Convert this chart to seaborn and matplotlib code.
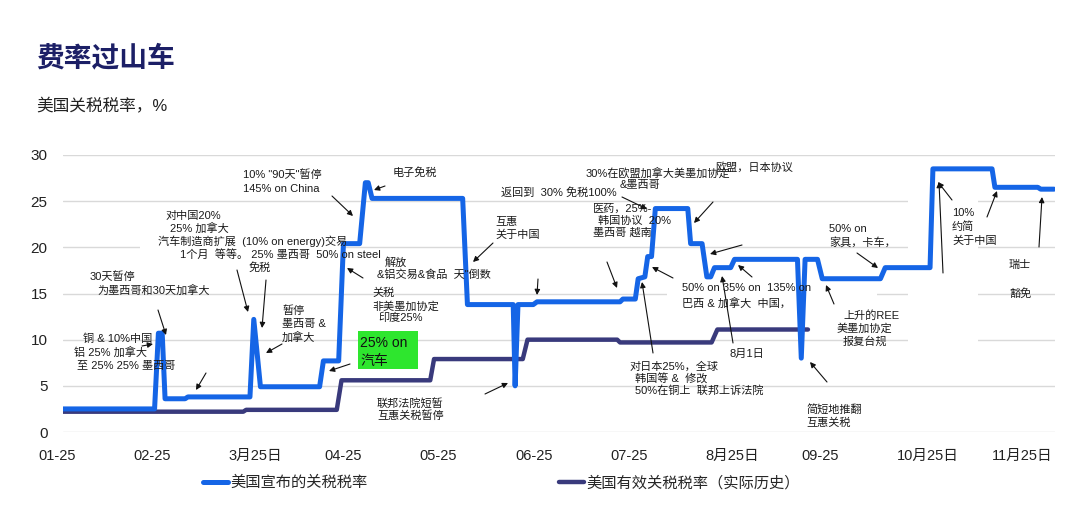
"""美国关税税率过山车图（宣布 vs 有效）。"""

import pandas as pd
import matplotlib
matplotlib.use("Agg")
import matplotlib.pyplot as plt
from matplotlib.patches import Rectangle
from matplotlib.transforms import ScaledTranslation
import seaborn as sns

# x = 自 2025-01-01 起的月数
ANNOUNCED_X = [0.00, 0.96, 1.00, 1.04, 1.07, 1.28, 1.31, 1.96, 2.00, 2.07,
               2.69, 2.73, 2.89, 2.94, 3.11, 3.17, 3.20, 3.24, 4.19, 4.24,
               4.72, 4.74, 4.77, 4.93, 4.97, 5.84, 5.87, 6.00, 6.03, 6.10,
               6.13, 6.17, 6.21, 6.55, 6.58, 6.70, 6.75, 6.79, 6.83, 7.00,
               7.04, 7.70, 7.74, 7.78, 7.91, 7.96, 8.57, 8.62, 9.09, 9.12,
               9.74, 9.77, 10.22, 10.25, 10.39]
ANNOUNCED_RATE = [2.5, 2.5, 10.7, 10.7, 3.6, 3.6, 3.8, 3.8, 12.2, 4.9,
                  4.9, 7.7, 7.7, 20.4, 20.4, 27.0, 27.0, 25.3, 25.3, 13.8,
                  13.8, 5.0, 13.8, 13.8, 14.1, 14.1, 14.4, 14.4, 16.6, 16.8,
                  19.0, 19.0, 24.2, 24.2, 20.4, 20.4, 16.8, 16.8, 17.8, 17.8,
                  18.7, 18.7, 8.0, 18.7, 18.7, 16.6, 16.6, 17.8, 17.8, 28.5,
                  28.5, 26.5, 26.5, 26.3, 26.3]

EFFECTIVE_X = [0.00, 1.89, 1.92, 2.87, 2.92, 3.85, 3.89, 4.82, 4.87, 5.81,
               5.84, 6.80, 6.86, 7.81]
EFFECTIVE_RATE = [2.2, 2.2, 2.4, 2.4, 5.6, 5.6, 7.9, 7.9, 10.0, 10.0,
                  9.7, 9.7, 11.1, 11.1]

SERIES = ["美国宣布的关税税率", "美国有效关税税率（实际历史）"]
MONTH_TICKS = list(range(11))
MONTH_LABELS = ["01-25", "02-25", "3月25日", "04-25", "05-25", "06-25",
                "07-25", "8月25日", "09-25", "10月25日", "11月25日"]

BLUE = "#1565e6"
NAVY = "#393a7c"
W, H = 1080, 513

# 注释文字：(文字, 左边 x, 中心 y)，图片像素坐标
NOTES = [
    ('10% "90天"暂停', 243, 175), ("145% on China", 243, 189),
    ("对中国20%", 165, 216), ("25% 加拿大", 170, 228),
    ("汽车制造商扩展  (10% on energy)交易", 158, 241),
    ("1个月  等等。 25% 墨西哥  50% on steel", 180, 255), ("免税", 249, 268),
    ("30天暂停", 90, 277), ("为墨西哥和30天加拿大", 97, 290),
    ("铜 & 10%中国", 83, 339), ("铝 25% 加拿大", 74, 352),
    ("至 25% 25% 墨西哥", 77, 366),
    ("暂停", 282, 311), ("墨西哥 &", 282, 324), ("加拿大", 282, 337),
    ("电子免税", 393, 173),
    ("解放", 385, 263), ('&铝交易&食品  天"倒数', 377, 275),
    ("关税", 372, 293), ("非美墨加协定", 372, 306), ("印度25%", 378, 318),
    ("互惠", 495, 222), ("关于中国", 495, 235),
    ("联邦法院短暂", 377, 403), ("互惠关税暂停", 377, 416),
    ("返回到  30% 免税100%", 501, 193),
    ("30%在欧盟加拿大美墨加协定", 586, 173), ("&墨西哥", 620, 185),
    ("欧盟，日本协议", 715, 167),
    ("医药，25%-", 593, 209), ("韩国协议  20%", 598, 221), ("墨西哥 越南", 593, 233),
    ("50% on 35% on  135% on", 682, 288), ("巴西 & 加拿大  中国，", 682, 303),
    ("8月1日", 730, 354),
    ("对日本25%，全球", 629, 367), ("韩国等 &  修改", 635, 379),
    ("50%在铜上  联邦上诉法院", 635, 391),
    ("50% on", 829, 229), ("家具，卡车，", 829, 242),
    ("10%", 952, 213), ("约简", 952, 227), ("关于中国", 952, 241),
    ("瑞士", 1009, 265), ("豁免", 1009, 294),
    ("上升的REE", 843, 315), ("美墨加协定", 837, 328), ("报复台规", 843, 341),
    ("简短地推翻", 806, 409), ("互惠关税", 806, 423),
]

# 箭头：(尾 x, 尾 y, 头 x, 头 y)
ARROWS = [
    (332, 196, 353, 216), (237, 270, 248, 312), (266, 280, 262, 328),
    (158, 310, 166, 335), (142, 346, 153, 344), (206, 373, 196, 390),
    (282, 344, 266, 353), (350, 364, 329, 371), (385, 186, 374, 190),
    (363, 278, 347, 268), (493, 243, 473, 262), (485, 394, 508, 383),
    (622, 197, 647, 209), (713, 202, 694, 223), (607, 262, 617, 288),
    (673, 278, 652, 267), (742, 245, 710, 254), (538, 279, 537, 295),
    (752, 277, 738, 265), (733, 343, 722, 276), (653, 353, 642, 282),
    (857, 253, 878, 268), (952, 200, 938, 182), (943, 273, 939, 182),
    (987, 217, 997, 191), (1039, 247, 1042, 197), (834, 304, 826, 285),
    (827, 382, 810, 362),
]

# 文字框的白底（遮住网格线）
WHITE_BOXES = [(908, 200, 978, 345), (667, 282, 877, 310), (140, 212, 345, 262)]

sns.set_theme(style="white")
plt.rcParams["font.family"] = ["Liberation Sans", "Noto Sans CJK SC"]
plt.rcParams["axes.unicode_minus"] = False

df = pd.concat([
    pd.DataFrame({"x": ANNOUNCED_X, "rate": ANNOUNCED_RATE, "series": SERIES[0]}),
    pd.DataFrame({"x": EFFECTIVE_X, "rate": EFFECTIVE_RATE, "series": SERIES[1]}),
])

fig = plt.figure(figsize=(W / 100, H / 100), dpi=100)
ax = fig.add_axes([63 / W, 81 / H, 992 / W, 277 / H])

sns.lineplot(data=df[df["series"] == SERIES[1]], x="x", y="rate", color=NAVY,
             linewidth=3.2, sort=False, estimator=None, ax=ax, zorder=3)
sns.lineplot(data=df[df["series"] == SERIES[0]], x="x", y="rate", color=BLUE,
             linewidth=3.6, sort=False, estimator=None, ax=ax, zorder=4)

ax.set_xlim(0, 10.4)
ax.set_ylim(0, 30)
ax.set_yticks([0, 5, 10, 15, 20, 25, 30])
ax.set_xticks(MONTH_TICKS)
ax.set_xticklabels(MONTH_LABELS, ha="left")
ax.set_xlabel("")
ax.set_ylabel("")
ax.set_axisbelow(True)
ax.yaxis.grid(True, color="#d9d9d9", linewidth=1)
ax.xaxis.grid(False)
sns.despine(ax=ax, left=True, bottom=True)
ax.tick_params(axis="y", length=0, labelsize=11, pad=11, labelcolor="#222222")
ax.tick_params(axis="x", length=0, labelsize=10.5, pad=12, labelcolor="#222222")
shift = ScaledTranslation(-25 / 100, 0, fig.dpi_scale_trans)
for lab in ax.get_xticklabels():
    lab.set_transform(lab.get_transform() + shift)

for x0, y0, x1, y1 in WHITE_BOXES:
    ax.add_patch(Rectangle((x0 / W, 1 - y1 / H), (x1 - x0) / W, (y1 - y0) / H,
                           transform=fig.transFigure, facecolor="white",
                           edgecolor="none", zorder=1.5))

# 绿色 "25% on 汽车" 标签
ax.add_patch(Rectangle((358 / W, 1 - 369 / H), 60 / W, 38 / H,
                       transform=fig.transFigure, facecolor="#2ee62e",
                       edgecolor="none", zorder=5, clip_on=False))
fig.text(360 / W, 1 - 343 / H, "25% on", fontsize=10, color="#111111",
         va="center", ha="left", zorder=6)
fig.text(360 / W, 1 - 361 / H, "汽车", fontsize=10, color="#111111",
         va="center", ha="left", zorder=6)

for txt, x, y in NOTES:
    fig.text(x / W, 1 - y / H, txt, fontsize=8, color="#1a1a1a",
             va="center", ha="left", zorder=6)

for x0, y0, x1, y1 in ARROWS:
    ax.annotate("", xy=(x1, H - y1), xytext=(x0, H - y0),
                xycoords="figure pixels", textcoords="figure pixels",
                arrowprops=dict(arrowstyle="-|>", color="#111111", lw=0.8,
                                mutation_scale=8, shrinkA=0, shrinkB=0),
                zorder=6, annotation_clip=False)

# 标题
fig.text(36 / W, 1 - 59 / H, "费率过山车", fontsize=20, fontweight="bold",
         color="#1c1f66", va="center", ha="left")
fig.text(36 / W, 1 - 106 / H, "美国关税税率，%", fontsize=12, color="#222222",
         va="center", ha="left")

# 图例
lines = ax.get_lines()
ax.legend(handles=[lines[1], lines[0]], labels=SERIES, loc="center left",
          bbox_to_anchor=(203 / W, 1 - 483 / H), bbox_transform=fig.transFigure,
          ncol=2, frameon=False, fontsize=11, handlelength=1.65,
          handletextpad=0.15, columnspacing=12.5, borderpad=0, borderaxespad=0)

fig.savefig("out.png", dpi=100)
plt.close(fig)
